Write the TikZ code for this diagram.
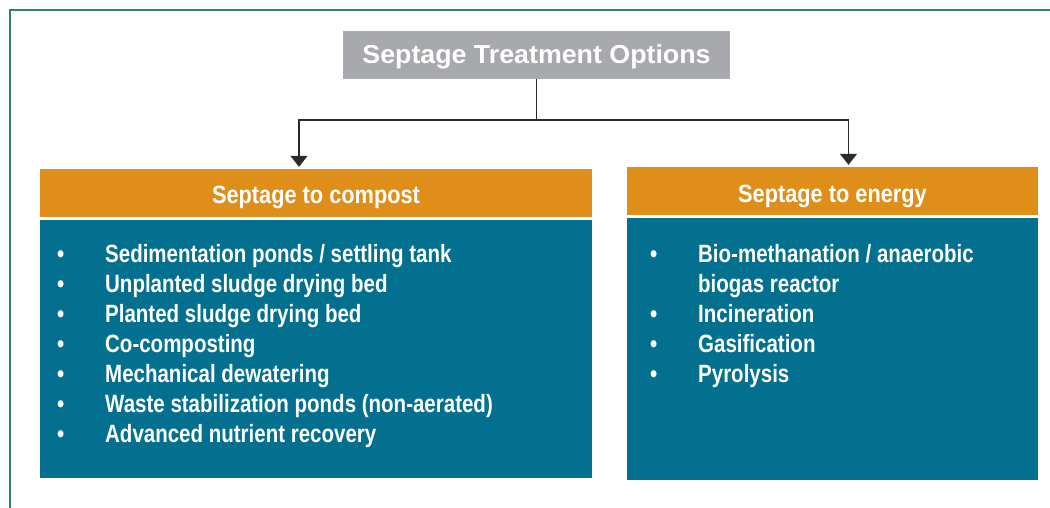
\documentclass[tikz,border=0pt]{standalone}
\usepackage{fontspec}
\setmainfont{Liberation Sans}[FakeStretch=0.82]
\newfontfamily\titlefont{Liberation Sans}[FakeStretch=1.03]
\newfontfamily\headfont{Liberation Sans}[FakeStretch=0.87]
\usepackage{xcolor}
\usetikzlibrary{arrows.meta,positioning}
\definecolor{framegreen}{HTML}{2A8079}
\definecolor{titlegray}{HTML}{A7A9AC}
\definecolor{headorange}{HTML}{E08E1A}
\definecolor{bodyteal}{HTML}{04708F}
\definecolor{linkgray}{HTML}{2B2B2B}
\newcommand{\bitem}[1]{\makebox[48pt][l]{\textbullet}#1}

\begin{document}
\begin{tikzpicture}[
    x=1pt, y=-1pt,
    titlebox/.style={fill=titlegray, text=white, font=\titlefont\bfseries\fontsize{26}{30}\selectfont, minimum width=387pt, minimum height=48pt, inner sep=0pt, text height=18pt, text depth=0pt},
    headbox/.style={fill=headorange, text=white, font=\headfont\bfseries\fontsize{25}{30}\selectfont, minimum height=48pt, inner sep=0pt, text height=22pt, text depth=0pt},
    bodybox/.style={fill=bodyteal, inner sep=0pt},
    itemlist/.style={text=white, font=\bfseries\fontsize{25}{30}\selectfont, align=left, inner sep=0pt, anchor=base west},
    link/.style={draw=linkgray, line width=1.4pt, -{Triangle[width=17pt,length=11pt]}, shorten >=2pt}
]
\useasboundingbox (0,0) rectangle (1050,508);
\draw[framegreen, line width=1.5pt] (10,508) |- (1050,10);

\node[titlebox] (title) at (536.5,55) {Septage Treatment Options};

\node[headbox, minimum width=552pt] (compost) at (316,193) {Septage to compost};
\node[headbox, minimum width=411pt] (energy) at (832.5,191) {Septage to energy};

\node[bodybox, minimum width=552pt, minimum height=258pt] (compostbody) at (316,349) {};
\node[bodybox, minimum width=411pt, minimum height=262pt] (energybody) at (832.5,349) {};

% base anchor sits on the last line
\node[itemlist] (compostlist) at (57,442) {%
  \bitem{Sedimentation ponds / settling tank}\\
  \bitem{Unplanted sludge drying bed}\\
  \bitem{Planted sludge drying bed}\\
  \bitem{Co-composting}\\
  \bitem{Mechanical dewatering}\\
  \bitem{Waste stabilization ponds (non-aerated)}\\
  \bitem{Advanced nutrient recovery}};
\node[itemlist] (energylist) at (650,382) {%
  \bitem{Bio-methanation / anaerobic}\\
  \hspace*{48pt}biogas reactor\\
  \bitem{Incineration}\\
  \bitem{Gasification}\\
  \bitem{Pyrolysis}};

\draw[link] (title.south) -- ++(0,41) -| ([xshift=-17pt]compost.north);
\draw[link] (title.south) -- ++(0,41) -| ([xshift=16pt]energy.north);
\end{tikzpicture}
\end{document}
